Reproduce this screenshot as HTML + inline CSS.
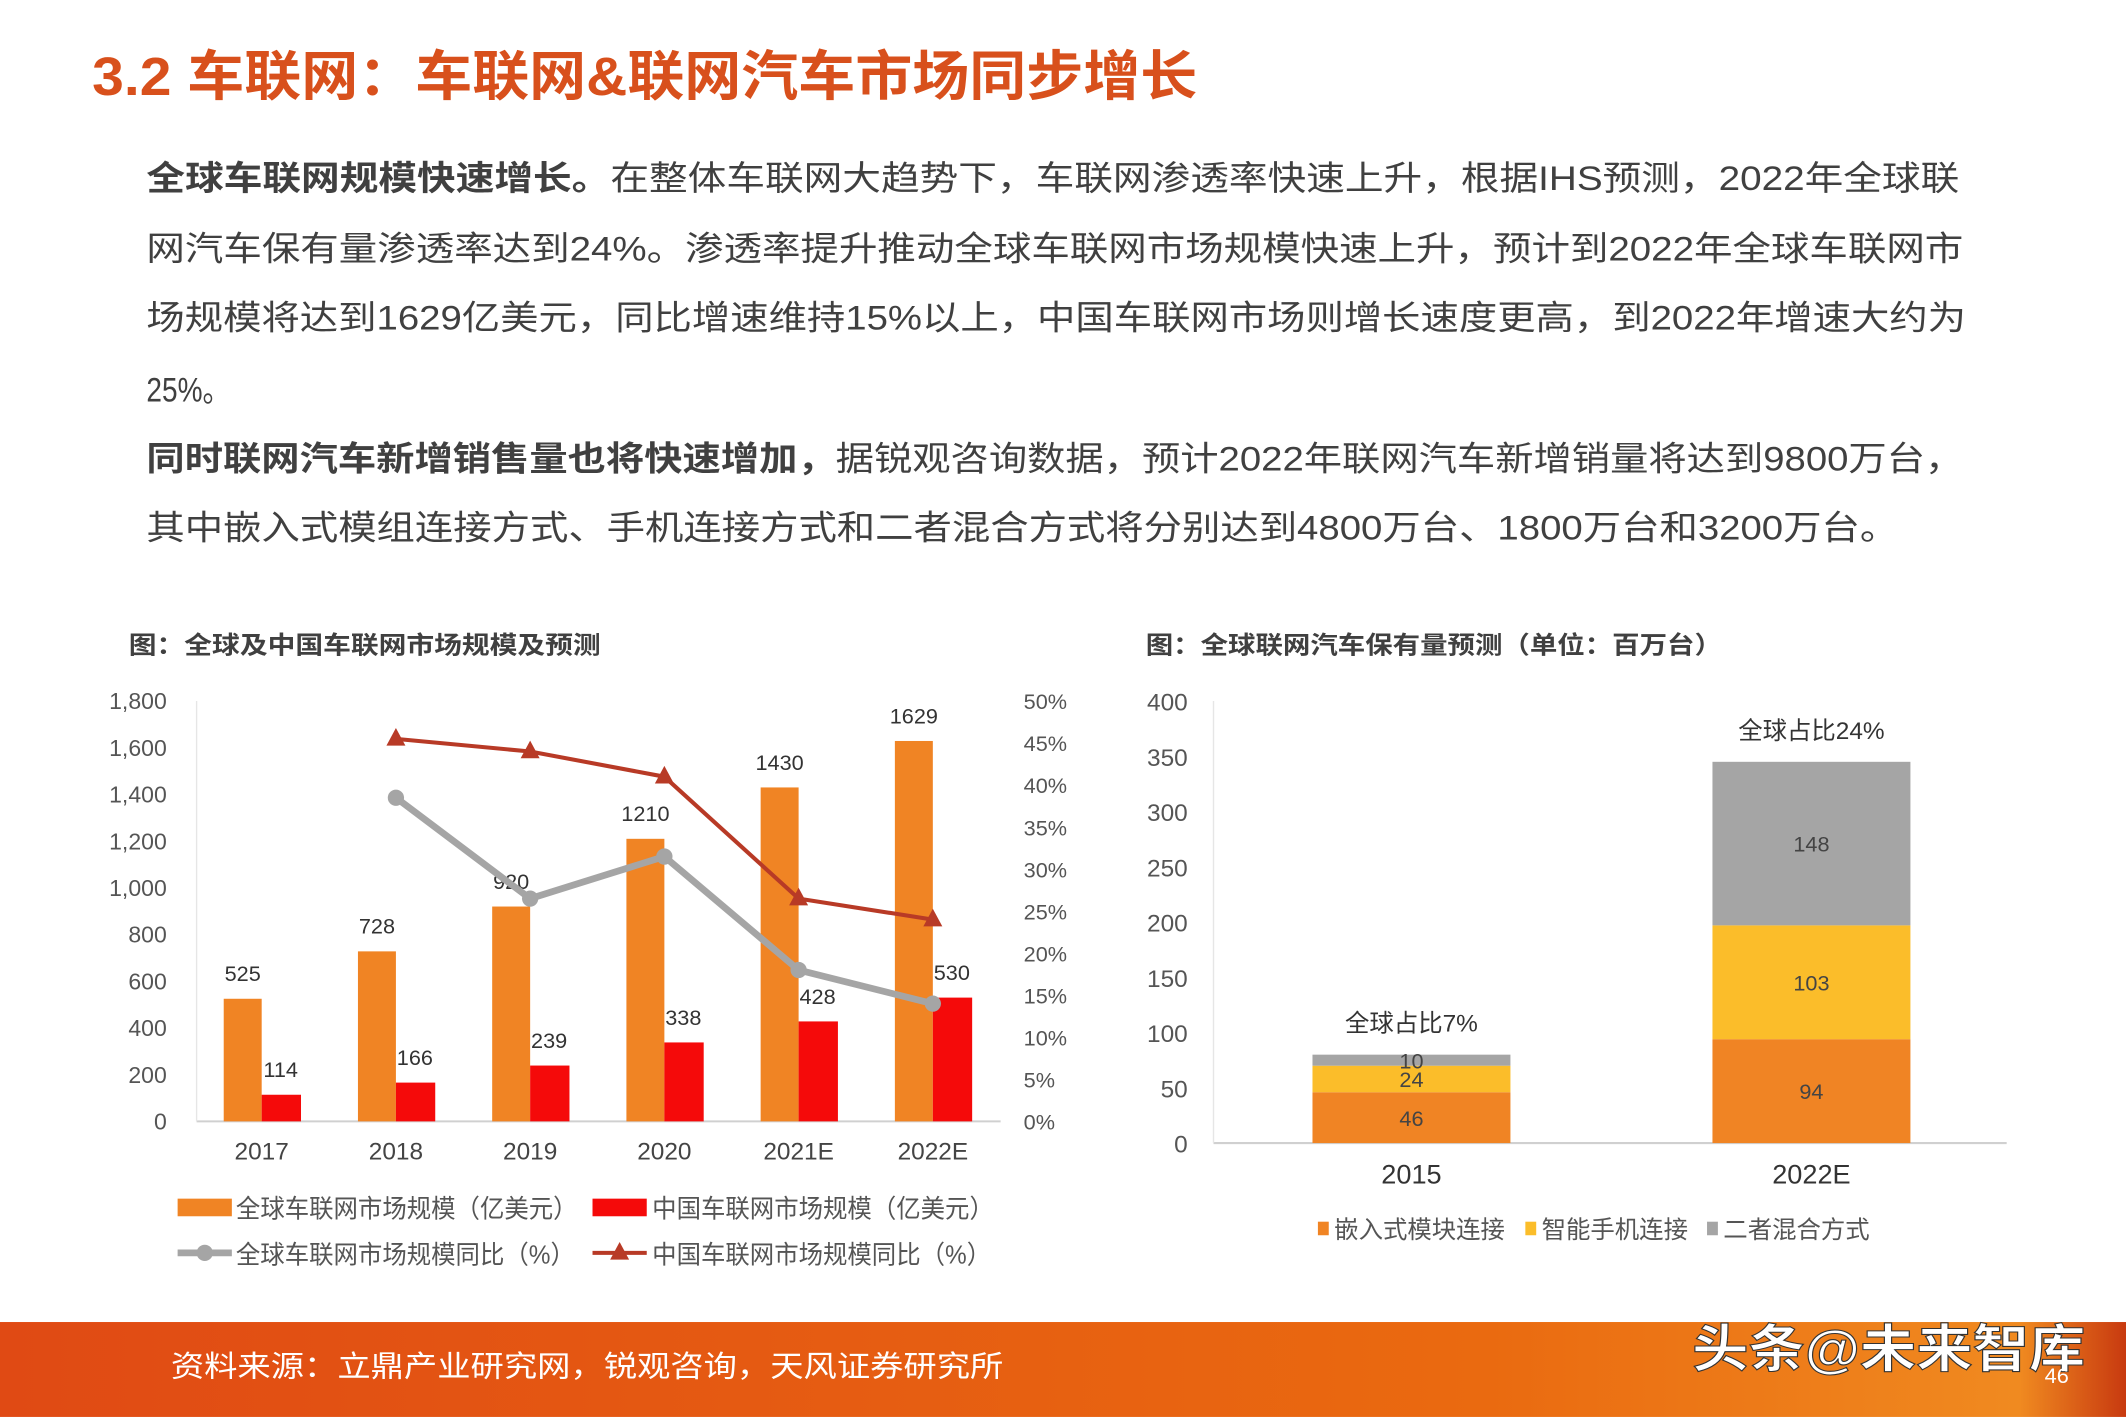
<!DOCTYPE html>
<html><head><meta charset="utf-8"><style>
html,body{margin:0;padding:0;background:#fff;overflow:hidden}
svg{display:block}
text{font-family:"Liberation Sans","Noto Sans CJK SC",sans-serif}
</style></head><body>
<svg id="page" width="2126" height="1417" viewBox="0 0 1568 1045" xmlns="http://www.w3.org/2000/svg">
<defs>
<linearGradient id="fg" x1="0" x2="1" y1="0" y2="0"><stop offset="0" stop-color="#e04a14"/><stop offset="0.7" stop-color="#ea6a10"/><stop offset="0.95" stop-color="#f08a20"/><stop offset="1" stop-color="#c83a10"/></linearGradient>
</defs>
<text x="68" y="70" font-size="40" font-weight="bold" fill="#d8501c" textLength="815" lengthAdjust="spacingAndGlyphs">3.2 车联网：车联网&amp;联网汽车市场同步增长</text>
<g font-size="25" fill="#404040">
<text x="108" y="140" textLength="1337" lengthAdjust="spacingAndGlyphs"><tspan font-weight="bold">全球车联网规模快速增长。</tspan>在整体车联网大趋势下，车联网渗透率快速上升，根据IHS预测，2022年全球联</text>
<text x="108" y="192" textLength="1340" lengthAdjust="spacingAndGlyphs">网汽车保有量渗透率达到24%。渗透率提升推动全球车联网市场规模快速上升，预计到2022年全球车联网市</text>
<text x="108" y="243" textLength="1342" lengthAdjust="spacingAndGlyphs">场规模将达到1629亿美元，同比增速维持15%以上，中国车联网市场则增长速度更高，到2022年增速大约为</text>
<text x="108" y="296" textLength="62" lengthAdjust="spacingAndGlyphs">25%。</text>
<text x="108" y="347" textLength="1340" lengthAdjust="spacingAndGlyphs"><tspan font-weight="bold">同时联网汽车新增销售量也将快速增加，</tspan>据锐观咨询数据，预计2022年联网汽车新增销量将达到9800万台，</text>
<text x="108" y="398" textLength="1292" lengthAdjust="spacingAndGlyphs">其中嵌入式模组连接方式、手机连接方式和二者混合方式将分别达到4800万台、1800万台和3200万台。</text>
</g>
<text x="95" y="482" font-size="18" font-weight="bold" fill="#404040" textLength="348" lengthAdjust="spacingAndGlyphs">图：全球及中国车联网市场规模及预测</text>
<text x="845" y="482" font-size="18" font-weight="bold" fill="#404040" textLength="425" lengthAdjust="spacingAndGlyphs">图：全球联网汽车保有量预测（单位：百万台）</text>
<g id="left"></g>
<g id="right"></g>
<rect x="0" y="975" width="1568" height="70" fill="url(#fg)"/>
<text x="126" y="1015" font-size="22" fill="#fff" textLength="614" lengthAdjust="spacingAndGlyphs">资料来源：立鼎产业研究网，锐观咨询，天风证券研究所</text>
<text x="1248" y="1008" font-size="38" font-weight="bold" fill="#fff" stroke="#333" stroke-width="0.8" textLength="290" lengthAdjust="spacingAndGlyphs">头条@未来智库</text>
<text x="1508" y="1020" font-size="16" fill="#fff">46</text>
</svg>
<script>
const NS='http://www.w3.org/2000/svg';
const categories=['2017','2018','2019','2020','2021E','2022E'];
const globalSize=[525,728,920,1210,1430,1629];
const chinaSize=[114,166,239,338,428,530];
const globalYoY=[null,38.5,26.5,31.5,18,14];
const chinaYoY=[null,45.5,44,41,26.5,24];
const leftTicks=[0,200,400,600,800,1000,1200,1400,1600,1800];
const rightTicks=[0,5,10,15,20,25,30,35,40,45,50];
const years2=['2015','2022E'];
const embedded=[46,94];
const phone=[24,103];
const hybrid=[10,148];
const shareLabels=['全球占比7%','全球占比24%'];
const stackTicks=[0,50,100,150,200,250,300,350,400];

function mk(tag,attrs,parent,txt){const e=document.createElementNS(NS,tag);for(const k in attrs)e.setAttribute(k,attrs[k]);if(txt!==undefined)e.textContent=txt;parent.appendChild(e);return e;}
const L=document.getElementById('left');
const y0=827,yTop=517,xL=145,xR=738;
const yL=v=>y0-(v/1800)*(y0-yTop);
const yR=v=>y0-(v/50)*(y0-yTop);
const xC=i=>193+i*99;
let ax=mk('line',{x1:xL,x2:xR,y1:y0,y2:y0,stroke:'#d0d0d0','stroke-width':1.5},L);


let ay=mk('line',{x1:xL,x2:xL,y1:yTop,y2:y0,stroke:'#e6e6e6','stroke-width':1},L);


leftTicks.forEach(t=>{const e=mk('text',{x:123,y:yL(t)+6,'font-size':17,fill:'#555','text-anchor':'end'},L,t.toLocaleString('en-US'));

});
rightTicks.forEach(t=>{const e=mk('text',{x:755,y:yR(t)+6,'font-size':16,fill:'#555'},L,t+'%');

});
categories.forEach((c,i)=>{
const e=mk('text',{x:xC(i),y:855,'font-size':18,fill:'#444','text-anchor':'middle'},L,c);


const b=mk('rect',{x:xC(i)-28,y:yL(globalSize[i]),width:28,height:y0-yL(globalSize[i]),fill:'#f08424'},L);


const r=mk('rect',{x:xC(i),y:yL(chinaSize[i]),width:29,height:y0-yL(chinaSize[i]),fill:'#f50a0a'},L);


const t1=mk('text',{x:xC(i)-14,y:yL(globalSize[i])-13,'font-size':16,fill:'#333','text-anchor':'middle','font-family':'Liberation Serif'},L,globalSize[i]);


const t2=mk('text',{x:xC(i)+14,y:yL(chinaSize[i])-13,'font-size':16,fill:'#333','text-anchor':'middle','font-family':'Liberation Serif'},L,chinaSize[i]);


});
function line(vals,color,name,marker){
const pts=[];vals.forEach((v,i)=>{if(v!==null)pts.push([xC(i),yR(v)]);});
const p=mk('polyline',{points:pts.map(p=>p.join(',')).join(' '),fill:'none',stroke:color,'stroke-width':marker==='c'?5:3},L);


pts.forEach(q=>{let m;
if(marker==='c')m=mk('circle',{cx:q[0],cy:q[1],r:6,fill:color},L);
else m=mk('polygon',{points:`${q[0]},${q[1]-8} ${q[0]-7},${q[1]+5} ${q[0]+7},${q[1]+5}`,fill:color},L);

});
}
line(globalYoY,'#a5a5a5','line-global-yoy','c');
line(chinaYoY,'#b83a26','line-china-yoy','t');
// legend
const lg=mk('g',{},L);


mk('rect',{x:131,y:884,width:40,height:13,fill:'#f08424'},lg);
mk('text',{x:174,y:898,'font-size':19,fill:'#555',textLength:252,lengthAdjust:'spacingAndGlyphs'},lg,'全球车联网市场规模（亿美元）');
mk('rect',{x:437,y:884,width:40,height:13,fill:'#f50a0a'},lg);
mk('text',{x:481,y:898,'font-size':19,fill:'#555',textLength:252,lengthAdjust:'spacingAndGlyphs'},lg,'中国车联网市场规模（亿美元）');
mk('line',{x1:131,x2:171,y1:924,y2:924,stroke:'#a5a5a5','stroke-width':5},lg);
mk('circle',{cx:151,cy:924,r:6,fill:'#a5a5a5'},lg);
mk('text',{x:174,y:932,'font-size':19,fill:'#555',textLength:250,lengthAdjust:'spacingAndGlyphs'},lg,'全球车联网市场规模同比（%）');
mk('line',{x1:437,x2:477,y1:924,y2:924,stroke:'#b83a26','stroke-width':3},lg);
mk('polygon',{points:'457,916 450,929 464,929',fill:'#b83a26'},lg);
mk('text',{x:481,y:932,'font-size':19,fill:'#555',textLength:250,lengthAdjust:'spacingAndGlyphs'},lg,'中国车联网市场规模同比（%）');

// right chart
const R=document.getElementById('right');
const b0=843,bTop=517,rx1=895,rx2=1480;
const yS=v=>b0-(v/400)*(b0-bTop);
const bx=[968,1263],bw=146;
let rax=mk('line',{x1:rx1,x2:rx2,y1:b0,y2:b0,stroke:'#d0d0d0','stroke-width':1.5},R);


let ray=mk('line',{x1:rx1,x2:rx1,y1:bTop,y2:b0,stroke:'#e6e6e6','stroke-width':1},R);


stackTicks.forEach(t=>{const e=mk('text',{x:876,y:yS(t)+7,'font-size':18,fill:'#555','text-anchor':'end'},R,t);

});
years2.forEach((c,i)=>{
let base=0;
[[embedded,'#f08424','embedded'],[phone,'#fbbd2a','phone'],[hybrid,'#a5a5a5','hybrid']].forEach(s=>{
const v=s[0][i];
const r=mk('rect',{x:bx[i],y:yS(base+v),width:bw,height:yS(base)-yS(base+v),fill:s[1]},R);


const t=mk('text',{x:bx[i]+bw/2,y:(yS(base)+yS(base+v))/2+6,'font-size':16,fill:'#444','text-anchor':'middle'},R,v);


base+=v;});
const s=mk('text',{x:bx[i]+bw/2,y:yS(base)-17,'font-size':18,fill:'#333','text-anchor':'middle'},R,shareLabels[i]);


const x=mk('text',{x:bx[i]+bw/2,y:873,'font-size':20,fill:'#333','text-anchor':'middle'},R,c);


});
const rl=mk('g',{},R);


[['#f08424','嵌入式模块连接',972],['#fbbd2a','智能手机连接',1125],['#a5a5a5','二者混合方式',1259]].forEach(e=>{
mk('rect',{x:e[2],y:901,width:8,height:10,fill:e[0]},rl);
mk('text',{x:e[2]+12,y:913,'font-size':18,fill:'#555'},rl,e[1]);});
</script>
</body></html>
